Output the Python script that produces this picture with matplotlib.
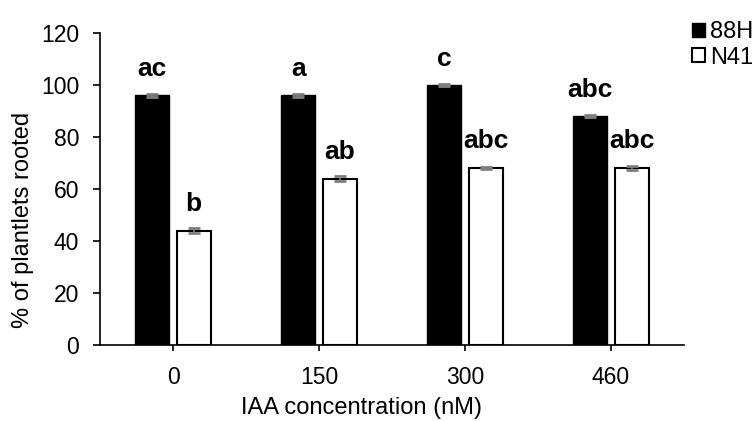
import matplotlib
matplotlib.use("Agg")
from matplotlib import pyplot as plt
import numpy as np

plt.rcParams['font.family'] = ['Liberation Sans', 'DejaVu Sans']

# data
concentrations = ["0", "150", "300", "460"]
rooted_88H = [96, 96, 100, 88]
rooted_N41 = [44, 64, 68, 68]
err_88H = [0.5, 0.5, 0.3, 0.5]
err_N41 = [1.0, 1.0, 0.5, 0.7]
letters_88H = ["ac", "a", "c", "abc"]
letters_N41 = ["b", "ab", "abc", "abc"]

fig = plt.figure(figsize=(7.54, 4.21), dpi=100)
ax = fig.add_axes([100/754, 1 - 345/421, 584/754, 312/421])

x = np.arange(len(concentrations))
w = 0.23
off = 0.142

ekw = dict(ecolor="#7f7f7f", capsize=4.3, elinewidth=1.2, capthick=2)
ax.bar(x - off, rooted_88H, w, color="black", edgecolor="black", linewidth=1, label="88H",
       yerr=err_88H, error_kw=ekw)
ax.bar(x + off, rooted_N41, w, color="white", edgecolor="black", linewidth=1.5, label="N41",
       yerr=err_N41, error_kw=ekw)

for i in range(len(x)):
    ax.text(x[i] - off, rooted_88H[i] + 5.5, letters_88H[i], ha="center", va="bottom",
            fontsize=19, fontweight="bold")
    ax.text(x[i] + off, rooted_N41[i] + 5.8, letters_N41[i], ha="center", va="bottom",
            fontsize=19, fontweight="bold")

ax.set_xlim(-0.5, 3.5)
ax.set_ylim(0, 120)
ax.set_yticks(range(0, 121, 20))
ax.set_xticks(x)
ax.set_xticklabels(concentrations)
ax.tick_params(axis="both", labelsize=16.5, direction="out", width=1.2)
ax.tick_params(axis="y", length=5, pad=10)
ax.tick_params(axis="x", length=4, pad=11)
for s in ["left", "bottom"]:
    ax.spines[s].set_linewidth(1.2)
ax.spines["top"].set_visible(False)
ax.spines["right"].set_visible(False)
ax.set_xlabel("IAA concentration (nM)", fontsize=17)
ax.set_ylabel("% of plantlets rooted", fontsize=17)
ax.xaxis.set_label_coords(0.448, -0.168)
ax.yaxis.set_label_coords(-0.113, 0.40)

fig.legend(loc="upper left", bbox_to_anchor=(692/754, 1 - 21/421), frameon=False, fontsize=17,
           handlelength=0.55, handleheight=0.55, handletextpad=0.2, labelspacing=0.15,
           borderpad=0, borderaxespad=0)

fig.savefig("out.png", dpi=100)
